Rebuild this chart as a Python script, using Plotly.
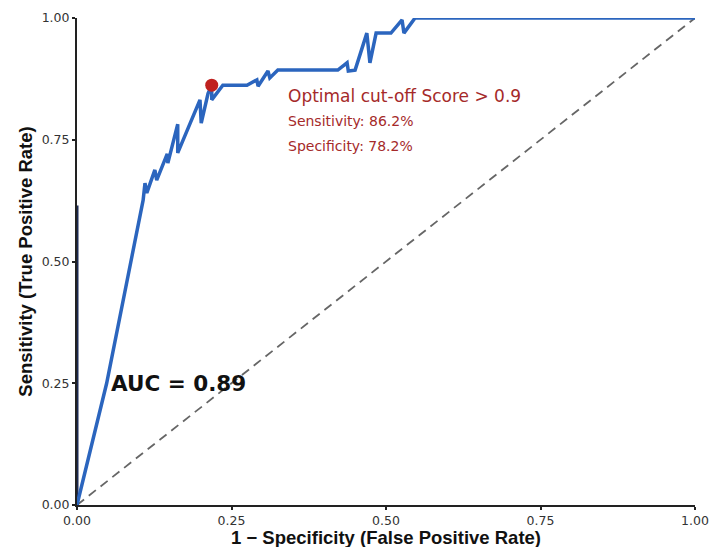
import plotly.graph_objects as go

# ROC curve points (false positive rate, true positive rate)
fpr = [0.0, 0.048, 0.107, 0.110, 0.113, 0.126, 0.129, 0.146, 0.147, 0.163, 0.163,
       0.199, 0.201, 0.212, 0.218, 0.218, 0.236, 0.275, 0.291, 0.293, 0.309, 0.312,
       0.325, 0.422, 0.437, 0.439, 0.450, 0.469, 0.474, 0.484, 0.508, 0.526, 0.529,
       0.547, 1.0]
tpr = [0.0, 0.25, 0.626, 0.661, 0.641, 0.688, 0.667, 0.721, 0.702, 0.782, 0.723,
       0.832, 0.784, 0.845, 0.862, 0.832, 0.862, 0.862, 0.873, 0.860, 0.891, 0.877,
       0.893, 0.893, 0.908, 0.891, 0.893, 0.969, 0.908, 0.969, 0.969, 0.996, 0.969,
       1.0, 1.0]

# Reference diagonal (random classifier)
chance_x = [0.0, 1.0]
chance_y = [0.0, 1.0]

# Vertical segment of the curve along the y axis
axis_seg_x = [0.0, 0.0]
axis_seg_y = [0.0, 0.615]

# Optimal cut-off point
opt_fpr = [0.218]
opt_tpr = [0.862]

auc_value = 0.89
tick_vals = [0.0, 0.25, 0.5, 0.75, 1.0]

dark_red = "#a52a2a"
wide_font = "DejaVu Sans"

fig = go.Figure()
fig.add_trace(go.Scatter(x=chance_x, y=chance_y, mode="lines",
                         line=dict(color="#666666", width=1.8, dash="9px,6px"),
                         hoverinfo="skip"))
fig.add_trace(go.Scatter(x=axis_seg_x, y=axis_seg_y, mode="lines",
                         line=dict(color="#1c2b55", width=3), cliponaxis=False,
                         hoverinfo="skip"))
fig.add_trace(go.Scatter(x=fpr, y=tpr, mode="lines",
                         line=dict(color="#2b65be", width=3.5),
                         cliponaxis=False))
fig.add_trace(go.Scatter(x=opt_fpr, y=opt_tpr, mode="markers",
                         marker=dict(color="#c0211f", size=13),
                         cliponaxis=False))

fig.add_annotation(x=0.338, y=0.840, xref="x", yref="y", xanchor="left",
                   text="Optimal cut-off Score &gt; 0.9", showarrow=False,
                   font=dict(size=17, color=dark_red, family=wide_font))
fig.add_annotation(x=0.338, y=0.789, xref="x", yref="y", xanchor="left",
                   text=f"Sensitivity: {opt_tpr[0]*100:.1f}%", showarrow=False,
                   font=dict(size=14, color=dark_red, family=wide_font))
fig.add_annotation(x=0.338, y=0.737, xref="x", yref="y", xanchor="left",
                   text=f"Specificity: {(1-opt_fpr[0])*100:.1f}%", showarrow=False,
                   font=dict(size=14, color=dark_red, family=wide_font))
fig.add_annotation(x=0.051, y=0.25, xref="x", yref="y", xanchor="left",
                   text=f"<b>AUC = {auc_value:.2f}</b>", showarrow=False,
                   font=dict(size=21.5, color="#111111", family=wide_font))

# x-axis title placed just under the tick labels
fig.add_annotation(x=0.5, y=0, xref="paper", yref="paper", xanchor="center",
                   yanchor="top", yshift=-20, showarrow=False,
                   text="<b>1 − Specificity (False Positive Rate)</b>",
                   font=dict(size=18.5, color="#111111", family="Liberation Sans"))

axis_common = dict(range=[0, 1], tickvals=tick_vals, tickformat=".2f",
                   showgrid=False, zeroline=False, showline=True,
                   linecolor="#222222", linewidth=2, ticks="outside",
                   ticklen=3, tickwidth=1.5, tickcolor="#222222",
                   automargin=False,
                   tickfont=dict(size=12.5, color="#333333", family=wide_font))

fig.update_layout(
    width=714, height=547,
    margin=dict(l=77, r=19, t=18, b=42),
    paper_bgcolor="white", plot_bgcolor="white",
    showlegend=False,
    xaxis=dict(**axis_common),
    yaxis=dict(title=dict(text="<b>Sensitivity (True Positive Rate)</b>",
                          font=dict(size=18.5, color="#111111", family="Liberation Sans"),
                          standoff=4),
               **axis_common),
)

fig.write_html("out.html")
